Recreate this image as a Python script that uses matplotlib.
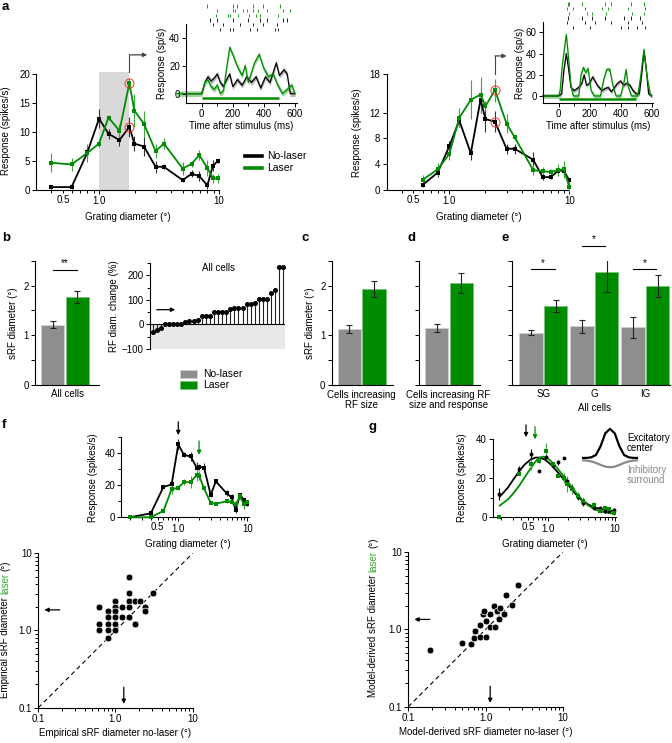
import matplotlib
matplotlib.use('Agg')
import matplotlib.pyplot as plt
from matplotlib.lines import Line2D
from matplotlib.patches import Rectangle

plt.rcParams['font.family'] = ['Liberation Sans', 'DejaVu Sans']
plt.rcParams['font.size'] = 7
plt.rcParams['axes.linewidth'] = 0.8
for ax_ in ('xtick', 'ytick'):
    plt.rcParams[ax_ + '.major.width'] = 0.7
    plt.rcParams[ax_ + '.minor.width'] = 0.7
    plt.rcParams[ax_ + '.major.size'] = 3
    plt.rcParams[ax_ + '.minor.size'] = 2
    plt.rcParams[ax_ + '.major.pad'] = 1.5
    plt.rcParams[ax_ + '.labelsize'] = 7
    plt.rcParams[ax_ + '.direction'] = 'out'

W, H = 672, 743
GREEN = '#008c00'
EGREEN = '#3aa83a'
GRAYBAR = '#8e8e8e'

# ---------------- data ----------------
# a, left cell: size tuning
a1_diam = [0.40, 0.59, 0.80, 1.0, 1.2, 1.48, 1.79, 1.97, 2.37, 2.96, 3.47, 4.98, 5.9, 6.85, 8.0, 8.9, 9.8]
a1_nolaser = [0.5, 0.5, 6.5, 12.3, 9.7, 8.6, 10.9, 8.0, 7.5, 4.0, 4.0, 1.7, 2.8, 2.4, 0.8, 4.2, 5.0]
a1_nolaser_err = [0.3, 0.3, 1.3, 1.6, 0.9, 1.0, 1.7, 1.3, 1.7, 1.0, 0.4, 0.4, 0.6, 0.8, 0.6, 0.9, 0.3]
a1_laser = [4.7, 4.4, 6.4, 8.0, 12.5, 10.2, 18.4, 13.7, 11.4, 6.7, 8.0, 3.7, 4.5, 6.0, 3.8, 2.0, 2.0]
a1_laser_err = [1.6, 1.2, 1.6, 0.5, 0.5, 1.2, 0.9, 2.8, 2.3, 1.2, 1.0, 1.1, 0.5, 0.9, 1.3, 0.8, 0.8]
a1_pick = 1.79

# a, right cell
a2_diam = [0.60, 0.80, 1.0, 1.21, 1.51, 1.82, 2.0, 2.4, 3.0, 3.5, 5.0, 6.0, 7.0, 8.1, 9.0, 10.0]
a2_nolaser = [0.8, 2.7, 6.8, 10.8, 5.7, 14.0, 11.0, 10.6, 6.4, 6.4, 4.7, 2.0, 2.0, 3.0, 3.0, 1.5]
a2_nolaser_err = [0.3, 0.7, 0.8, 1.0, 1.0, 2.0, 2.0, 1.6, 0.8, 0.8, 1.2, 0.4, 0.3, 0.5, 0.8, 0.4]
a2_laser = [1.6, 3.2, 5.6, 11.2, 14.0, 14.8, 13.0, 15.5, 10.3, 8.2, 3.1, 2.9, 2.8, 3.1, 3.2, 0.5]
a2_laser_err = [0.8, 1.0, 1.0, 1.5, 3.0, 2.8, 0.8, 1.8, 1.5, 0.4, 0.8, 0.6, 0.5, 1.0, 1.3, 0.8]
a2_pick = 2.4

# a insets: PSTH (ms, spikes/s)
p1_t_nl = [-100, -10, 0, 20, 40, 60, 80, 100, 120, 140, 160, 180, 200, 230, 260, 290, 320, 350, 380, 410, 440, 480, 500, 530, 550, 570, 600]
p1_r_nl = [0, 0, 0, 8, 12, 9, 11, 14, 8, 5, 10, 14, 5, 10, 6, 12, 8, 12, 4, 12, 8, 22, 13, 17, 14, 0, 0]
p1_t_l = [-160, 0, 20, 40, 60, 80, 100, 120, 140, 160, 180, 200, 220, 240, 260, 280, 300, 320, 340, 370, 400, 430, 460, 490, 520, 550, 580, 600]
p1_r_l = [0, 0, 8, 10, 5, 3, 6, 0, 2, 18, 33, 28, 22, 17, 13, 20, 8, 15, 22, 28, 18, 12, 14, 6, 0, 3, 6, 0]
p2_t_nl = [-100, 0, 20, 35, 50, 65, 80, 100, 130, 150, 165, 180, 200, 220, 250, 280, 300, 320, 340, 360, 380, 400, 420, 440, 460, 480, 500, 520, 535, 550, 565, 580, 600]
p2_r_nl = [0, 0, 2, 25, 40, 25, 8, 5, 8, 12, 20, 10, 12, 18, 10, 5, 7, 8, 4, 8, 12, 14, 10, 12, 10, 5, 2, 2, 20, 42, 25, 2, 0]
p2_t_l = [-100, 0, 10, 25, 50, 65, 80, 95, 130, 145, 160, 175, 190, 210, 230, 270, 290, 310, 330, 350, 370, 400, 420, 435, 450, 470, 510, 530, 550, 570, 590, 600]
p2_r_l = [0, 0, 5, 30, 58, 35, 10, 0, 0, 20, 27, 22, 26, 5, 0, 0, 15, 25, 25, 10, 0, 0, 12, 25, 8, 0, 0, 20, 44, 18, 2, 0]
laser_on = [0, 500]

# rasters (spike times in ms, one list per trial)
r1_laser = [[36, 203, 229, 328, 396, 503], [96, 199, 214, 268, 293, 332, 364, 418, 525, 567],
            [92, 171, 182, 236, 306, 349, 375, 493]]
r1_nolaser = [[54, 96, 203, 300, 375, 418, 525, 546], [75, 139, 246, 332, 396, 482],
              [118, 182, 203, 310, 353, 471, 493]]
r2_laser = [[58, 69, 152, 298, 340, 465, 548], [52, 90, 173, 277, 319, 444, 558],
            [65, 183, 215, 308, 475, 548]]
r2_nolaser = [[58, 152, 215, 298, 423, 465, 527], [52, 173, 235, 340, 444, 538],
              [90, 204, 402, 444, 506, 558]]

# b: all cells
b_vals = [1.21, 1.77]
b_errs = [0.07, 0.13]
rf_change = [-31, -23, -14, 0, 0, 0, 0, 0, 10, 12, 14, 16, 34, 34, 34, 52, 52, 52, 52, 64, 68, 68, 68,
             82, 82, 89, 103, 103, 103, 126, 142, 235, 235]
# c, d
c_vals = [1.12, 1.93]
c_errs = [0.08, 0.16]
d_vals = [1.15, 2.05]
d_errs = [0.08, 0.2]
# e: layers
e_layers = ['SG', 'G', 'IG']
e_nolaser = [1.05, 1.18, 1.16]
e_nolaser_err = [0.05, 0.13, 0.21]
e_laser = [1.58, 2.28, 1.99]
e_laser_err = [0.12, 0.40, 0.23]

# f top example
f_diam = [0.2, 0.4, 0.61, 0.8, 1.0, 1.21, 1.51, 1.85, 2.0, 2.36, 2.95, 3.5, 5.0, 5.9, 6.8, 7.8, 8.96, 10.0]
f_nolaser = [0, 2.5, 19, 20.5, 45.5, 39, 38, 31, 31.5, 31, 14, 22.5, 15, 12.5, 4.5, 14, 11, 8]
f_nolaser_err = [0, 0.2, 0.8, 1, 3.5, 1.5, 3, 3.5, 2, 3, 1.5, 1, 2, 2, 2, 1, 1, 1]
f_laser = [0, 0, 4, 17.5, 18.5, 22, 22, 26.5, 26, 18, 9, 8.5, 10, 9.5, 8, 13, 8, 9.5]
f_laser_err = [0, 0, 0.5, 3, 1.5, 2, 4, 4, 3, 1, 1, 1, 1, 1, 1, 1.5, 3, 1.5]
f_peak = [1.0, 2.0]

# f bottom: empirical sRF diameters
f_sc_nolaser = [0.61, 0.61, 0.61, 0.80, 0.80, 0.80, 0.80, 0.80, 1.0, 1.0, 1.0, 1.0, 1.0, 1.0, 1.23, 1.23,
                1.51, 1.51, 1.51, 1.51, 1.51, 1.81, 1.81, 2.06, 2.43, 2.43, 3.02]
f_sc_laser = [2.0, 1.22, 1.0, 1.81, 1.49, 1.22, 1.0, 0.80, 2.39, 2.0, 1.81, 1.49, 1.22, 1.0, 2.0, 1.49,
              4.96, 3.02, 2.39, 2.0, 1.49, 2.39, 1.2, 2.39, 2.04, 1.81, 3.02]
f_mean = [1.28, 1.85]

# g top example with fits
g_diam = [0.186, 0.37, 0.56, 0.74, 0.95, 1.17, 1.43, 1.73, 1.94, 2.31, 2.77, 3.37, 4.92, 5.97, 7.1, 8.2, 9.8]
g_nolaser = [12, 24.6, 32.4, 23.9, 30.7, 26.8, 28, 30.2, 18.3, 15.2, 10.6, 7.5, 5, 4.6, 3.2, 3, 3.8]
g_nolaser_err = [3, 1.5, 2.5, 0, 0, 1.5, 1.5, 0, 2.5, 2, 2, 1.5, 1, 0.5, 1, 0.5, 1]
g_laser = [0, 22, 27, 29, 34, 27, 21, 20, 17, 14.5, 11, 8.5, 6.5, 3, 4.5, 4, 2]
g_laser_err = [0, 0, 3, 1.5, 4, 1.5, 0, 2.5, 4, 2.5, 2, 2, 1.5, 0, 1.5, 1, 1]
gfit_x_nl = [0.19, 0.25, 0.3, 0.37, 0.45, 0.55, 0.65, 0.75, 0.9, 1.1, 1.4, 1.7, 2.0, 2.5, 3.0, 4.0, 5.0, 6.5, 8.0, 10]
gfit_y_nl = [10.5, 15, 19, 23.5, 27, 29.5, 30.5, 30.5, 29.5, 27, 23, 19.5, 16.5, 12.5, 9.5, 6.5, 5, 4, 3.5, 3.2]
gfit_x_l = [0.19, 0.25, 0.3, 0.37, 0.45, 0.55, 0.65, 0.75, 0.85, 1.0, 1.2, 1.5, 1.8, 2.2, 2.7, 3.3, 4.0, 5.0, 6.5, 8.0, 10]
gfit_y_l = [6, 9, 12, 16, 20.5, 25, 28.5, 30.5, 31, 30, 27.5, 23.5, 20, 16, 12, 8.5, 6, 4, 2.8, 2.2, 1.8]
g_peak = [0.47, 0.64]

# g bottom: model-derived sRF diameters
g_sc_nolaser = [0.19, 0.50, 0.64, 0.72, 0.74, 0.85, 0.84, 0.92, 1.0, 1.0, 1.13, 1.13, 1.31, 1.28, 1.41,
                1.48, 1.56, 1.72, 1.85, 2.2, 2.63, 0.95]
g_sc_laser = [0.55, 0.66, 0.65, 0.77, 0.95, 0.80, 1.13, 1.61, 0.80, 1.28, 1.08, 1.61, 1.08, 1.99, 1.72,
              1.35, 1.90, 1.61, 2.82, 2.1, 3.8, 1.72]
g_mean = [1.15, 1.35]

# schematic of center / surround profiles
dog_x = [-3, -2.5, -2, -1.5, -1, -0.5, 0, 0.5, 1, 1.5, 2, 2.5, 3]
dog_center = [0, 0, 0.02, 0.1, 0.4, 0.85, 1.0, 0.85, 0.4, 0.1, 0.02, 0, 0]
dog_surround = [-0.08, -0.09, -0.12, -0.17, -0.24, -0.3, -0.32, -0.3, -0.24, -0.17, -0.12, -0.09, -0.08]

# ---------------- helpers ----------------
fig = plt.figure(figsize=(W / 100, H / 100), dpi=100)


def px_axes(x0, y0, x1, y1):
    return fig.add_axes([x0 / W, 1 - y1 / H, (x1 - x0) / W, (y1 - y0) / H])


def ftext(x, y, s, **kw):
    return fig.text(x / W, 1 - y / H, s, **kw)


def style(ax):
    ax.spines['top'].set_visible(False)
    ax.spines['right'].set_visible(False)
    ax.patch.set_alpha(0)


def log_x(ax, lo, hi):
    ax.set_xscale('log')
    ax.set_xlim(lo, hi)
    ax.set_xticks([1, 10])
    ax.set_xticklabels(['1.0', '10'])
    minor = [m / 10 for m in range(1, 10) if m / 10 > lo] + list(range(2, 10))
    ax.set_xticks(minor, minor=True)
    ax.set_xticklabels(['0.5' if m == 0.5 else '' for m in minor], minor=True)
    ax.tick_params(axis='x', which='minor', pad=1.5, labelsize=7)


def tuning(ax, x, y, err, color, ecolor, marker='s'):
    ax.errorbar(x, y, yerr=err, color=color, ecolor=ecolor, lw=1.3, elinewidth=0.8,
                capsize=1.5, capthick=0.8, marker=marker, ms=2.8, mew=0, clip_on=False, zorder=3)


def psth(ax, t, r, color, band):
    lo = [v - 2 for v in r]
    hi = [v + 2 for v in r]
    ax.fill_between(t, lo, hi, color=band, lw=0, clip_on=False)
    ax.plot(t, r, color=color, lw=0.9, clip_on=False)


def raster(ax, rows_l, rows_nl):
    for i, row in enumerate(rows_l):
        ax.vlines(row, i - 0.35, i + 0.35, color=GREEN, lw=0.6)
    for i, row in enumerate(rows_nl):
        k = i + len(rows_l)
        ax.vlines(row, k - 0.35, k + 0.35, color='k', lw=0.6)
    ax.set_xlim(-100, 610)
    ax.set_ylim(len(rows_l) + len(rows_nl) - 0.5, -0.5)
    ax.axis('off')


def bars(ax, xpos, vals, errs, cols, edges):
    ax.bar(xpos, vals, width=0.94, color=cols, edgecolor=edges, lw=0.7)
    ax.errorbar(xpos, vals, yerr=errs, fmt='none', ecolor='#222222', elinewidth=0.8,
                capsize=2, capthick=0.8)
    ax.set_ylim(0, 2.5)
    ax.set_yticks([0, 0.5, 1, 1.5, 2, 2.5])
    ax.set_yticklabels(['0', '', '1', '', '2', ''])
    ax.set_xticks([])
    style(ax)


def sig(ax, x0, x1, y, s):
    ax.plot([x0, x1], [y, y], color='k', lw=0.8, clip_on=False)
    ax.text((x0 + x1) / 2, y + 0.03, s, ha='center', va='bottom', fontsize=7, clip_on=False)


def arrow(ax, xy, xytext, color):
    ax.annotate('', xy=xy, xytext=xytext, annotation_clip=False,
                arrowprops=dict(arrowstyle='-|>', color=color, lw=0.9, mutation_scale=6,
                                shrinkA=0, shrinkB=0))


def vlabel(x, y_bottom, pieces):
    r = fig.canvas.get_renderer()
    y = y_bottom
    for s, c in pieces:
        t = ftext(x, y, s, rotation=90, ha='center', va='bottom', color=c)
        y -= t.get_window_extent(renderer=r).height + 2.6


# ---------------- a ----------------
for k, (diam, nl, nle, la, lae, pick, x0, ytop, yt) in enumerate([
        (a1_diam, a1_nolaser, a1_nolaser_err, a1_laser, a1_laser_err, a1_pick, 36.3, 20, [0, 5, 10, 15, 20]),
        (a2_diam, a2_nolaser, a2_nolaser_err, a2_laser, a2_laser_err, a2_pick, 386.6, 18, [0, 4, 8, 12, 18])]):
    ax = px_axes(x0, 74, x0 + 182.7, 190)
    style(ax)
    log_x(ax, 0.3, 10)
    ax.set_ylim(0, ytop)
    ax.set_yticks(yt)
    if k == 0:
        ax.fill_between([1.0, pick], 0, 20.4, color='#d9d9d9', lw=0, zorder=0, clip_on=False)
    tuning(ax, diam, nl, nle, 'k', '#333333')
    tuning(ax, diam, la, lae, GREEN, EGREEN)
    i = diam.index(pick)
    ax.plot([pick, pick], [nl[i], la[i]], 'o', mfc='none', mec='#ff3030', ms=6.5, mew=0.7,
            zorder=4, clip_on=False)
    if k == 0:
        ytop_line, xend = 23.3, 2.52
        ybot_line = 20.4
    else:
        ytop_line, xend = 20.8, 3.0
        ybot_line = 18.0
    ax.plot([pick, pick], [ybot_line, ytop_line], color='#444444', lw=0.8, clip_on=False)
    arrow(ax, (xend, ytop_line), (pick, ytop_line), '#444444')

ftext(6, 131, 'Response (spikes/s)', rotation=90, ha='center', va='center')
ftext(356.7, 133, 'Response (spikes/s)', rotation=90, ha='center', va='center')
ftext(127.7, 217.3, 'Grating diameter (°)', ha='center', va='center')
ftext(478.5, 217.3, 'Grating diameter (°)', ha='center', va='center')

# insets
for (x0, y0, y1, ytop, yt, tnl, rnl, tl, rl, rl_rows, rnl_rows, ylx) in [
        (186.2, 23.6, 102.8, 50, [0, 20, 40], p1_t_nl, p1_r_nl, p1_t_l, p1_r_l, r1_laser, r1_nolaser, 161.7),
        (543.0, 21.7, 102.9, 70, [0, 20, 40, 60], p2_t_nl, p2_r_nl, p2_t_l, p2_r_l, r2_laser, r2_nolaser, 520.0)]:
    span = (y1 - y0)
    ax = px_axes(x0, y0, x0 + 110.3, y1)
    style(ax)
    ax.set_xlim(-100, 610)
    ax.set_ylim(-6.5, ytop)
    ax.set_yticks(yt)
    ax.set_xticks([0, 200, 400, 600])
    ax.set_xticks([100, 300, 500], minor=True)
    psth(ax, tnl, rnl, 'k', '#b5b5b5')
    psth(ax, tl, rl, GREEN, '#9bd69b')
    ax.plot(laser_on, [-3, -3], color=GREEN, lw=1.8, solid_capstyle='butt')
    ax.set_xlabel('Time after stimulus (ms)', labelpad=1.5)
    ftext(ylx, 63, 'Response (sp/s)', rotation=90, ha='center', va='center')
    rax = px_axes(x0, y0 - 20, x0 + 110.3, y0 + 8)
    raster(rax, rl_rows, rnl_rows)

# legend a
for y, c, s in [(155.7, 'k', 'No-laser'), (168.3, GREEN, 'Laser')]:
    fig.add_artist(Line2D([245 / W, 262 / W], [1 - y / H, 1 - y / H], color=c, lw=2.6))
    ftext(267, y, s, va='center', fontsize=7.5)

# ---------------- b ----------------
ax = px_axes(35, 260.7, 99, 385)
bars(ax, [0, 1], b_vals, b_errs, [GRAYBAR, GREEN], ['#cfcfcf', '#7cc47c'])
ax.set_xlim(-0.71, 1.88)
sig(ax, 0.02, 0.98, 2.32, '**')
ax.set_ylabel('sRF diameter (°)', labelpad=4)
ftext(67.7, 394.3, 'All cells', ha='center', va='center')

ax = px_axes(150, 263, 285, 349)
style(ax)
ax.spines['bottom'].set_visible(False)
ax.set_xticks([])
idx = list(range(len(rf_change)))
ax.set_xlim(-0.66, 32.4)
ax.set_ylim(-100, 250)
ax.set_yticks([-100, 0, 100, 200])
ax.set_yticklabels(['\u2212100', '0', '100', '200'])
ax.set_yticks([-50, 50, 150, 250], minor=True)
ax.fill_between([-0.66, 32.4], -100, 0, color='#e8e8e8', lw=0, zorder=0)
ax.axhline(0, color='k', lw=0.8, zorder=1)
ax.vlines(idx, 0, rf_change, color='#222222', lw=0.8, zorder=2)
ax.plot(idx, rf_change, 'o', color='k', ms=2.6, zorder=3, clip_on=False)
ax.text(16, 250, 'All cells', ha='center', va='top')
arrow(ax, (5.5, 60), (1.0, 60), 'k')
ax.set_ylabel('RF diam. change (%)', labelpad=2)

for y, c, e, s in [(374, GRAYBAR, '#cfcfcf', 'No-laser'), (385, GREEN, '#7cc47c', 'Laser')]:
    fig.add_artist(Rectangle((180 / W, 1 - (y + 3.6) / H), 16.5 / W, 7.2 / H, facecolor=c,
                             edgecolor=e, lw=0.6))
    ftext(203, y, s, va='center', fontsize=7.5)

# ---------------- c, d ----------------
ax = px_axes(331.7, 260.7, 393, 385)
bars(ax, [0, 1], c_vals, c_errs, [GRAYBAR, GREEN], ['#cfcfcf', '#7cc47c'])
ax.set_xlim(-0.71, 1.77)
ax.set_ylabel('sRF diameter (°)', labelpad=4)
ftext(361.7, 400, 'Cells increasing\nRF size', ha='center', va='center', linespacing=1.05)

ax = px_axes(419, 260.7, 480, 385)
bars(ax, [0, 1], d_vals, d_errs, [GRAYBAR, GREEN], ['#cfcfcf', '#7cc47c'])
ax.set_xlim(-0.72, 1.76)
ax.set_yticklabels([])
ftext(448.3, 400, 'Cells increasing RF\nsize and response', ha='center', va='center', linespacing=1.05)

# ---------------- e ----------------
ax = px_axes(512.3, 260.7, 670, 385)
gx = [0, 2.06, 4.12]
xs, vals, errs, cols, edges = [], [], [], [], []
for g in range(3):
    xs += [gx[g], gx[g] + 1]
    vals += [e_nolaser[g], e_laser[g]]
    errs += [e_nolaser_err[g], e_laser_err[g]]
    cols += [GRAYBAR, GREEN]
    edges += ['#cfcfcf', '#7cc47c']
bars(ax, xs, vals, errs, cols, edges)
ax.set_xlim(-0.76, 5.62)
ax.set_yticklabels([])
sig(ax, gx[0], gx[0] + 0.95, 2.33, '*')
sig(ax, gx[1], gx[1] + 0.95, 2.8, '*')
sig(ax, gx[2], gx[2] + 0.95, 2.33, '*')
for g, name in enumerate(e_layers):
    ax.text(gx[g] + 0.5, -0.08, name, ha='center', va='top', transform=ax.transData)
ftext(594, 408, 'All cells', ha='center', va='center')

# ---------------- f, g top ----------------
for (x0, x1, ytop, diam, nl, nle, la, lae, peaks, ylx, xlc, mk) in [
        (121.4, 248.8, 50, f_diam, f_nolaser, f_nolaser_err, f_laser, f_laser_err, f_peak, 93.3, 188.3, 's'),
        (492.8, 616.4, 40, g_diam, g_nolaser, g_nolaser_err, g_laser, g_laser_err, g_peak, 461.7, 545, 'o')]:
    yb = 517.3
    ax = px_axes(x0, yb - (1.6 if ytop == 50 else 1.9575) * ytop, x1, yb)
    style(ax)
    log_x(ax, 0.15, 10.5)
    ax.set_ylim(0, ytop)
    ax.set_yticks([0, 20, 40])
    ax.set_yticks([10, 30] + ([50] if ytop == 50 else []), minor=True)
    if mk == 's':
        tuning(ax, diam, nl, nle, 'k', '#333333')
        tuning(ax, diam, la, lae, GREEN, EGREEN)
        arrow(ax, (peaks[0], 51.4), (peaks[0], 59.7), 'k')
        arrow(ax, (peaks[1], 39), (peaks[1], 47.7), GREEN)
    else:
        ax.plot(gfit_x_nl, gfit_y_nl, color='k', lw=1.3)
        ax.plot(gfit_x_l, gfit_y_l, color=GREEN, lw=1.3)
        ax.errorbar(diam, nl, yerr=nle, fmt='o', color='k', ms=2.8, mew=0, elinewidth=0.8,
                    capsize=1.5, capthick=0.8, clip_on=False, zorder=3)
        ax.errorbar(diam, la, yerr=lae, fmt='s', color=GREEN, ecolor=EGREEN, ms=2.6, mew=0,
                    elinewidth=0.8, capsize=1.5, capthick=0.8, clip_on=False, zorder=3)
        arrow(ax, (peaks[0], 40.9), (peaks[0], 47.2), 'k')
        arrow(ax, (peaks[1], 39.8), (peaks[1], 46.3), GREEN)
    ftext(ylx, 478, 'Response (spikes/s)', rotation=90, ha='center', va='center')
    ftext(xlc, 544, 'Grating diameter (°)', ha='center', va='center')

# center-surround schematic
dax = px_axes(581.7, 426, 638.3, 471)
dax.plot(dog_x, dog_center, color='k', lw=1.6)
dax.plot(dog_x, dog_surround, color='#8a8a8a', lw=1.6)
dax.set_xlim(-3, 3)
dax.set_ylim(-0.45, 1.1)
dax.axis('off')
ftext(627, 443.5, 'Excitatory\ncenter', va='center', linespacing=1.0)
ftext(627, 475, 'Inhibitory\nsurround', va='center', color='#8a8a8a', linespacing=1.0)

# ---------------- f, g scatter ----------------
for (x0, y0, sx, sy, mean, xl, lab, ylx, ybot) in [
        (38.3, 553.3, f_sc_nolaser, f_sc_laser, f_mean, 116.7, 'Empirical', 5.5, 698),
        (408.3, 552.3, g_sc_nolaser, g_sc_laser, g_mean, 486, 'Model-derived', 373.3, 697)]:
    ax = px_axes(x0, y0, x0 + 154.4, y0 + 154.4)
    style(ax)
    ax.set_xscale('log')
    ax.set_yscale('log')
    ax.set_xlim(0.1, 10)
    ax.set_ylim(0.1, 10)
    for setter in (ax.set_xticks, ax.set_yticks):
        setter([0.1, 1, 10])
        setter([m / 10 for m in range(2, 10)] + list(range(2, 10)), minor=True)
    ax.set_xticklabels(['0.1', '1.0', '10'])
    ax.set_yticklabels(['0.1', '1.0', '10'])
    ax.tick_params(which='minor', labelleft=False, labelbottom=False)
    ax.plot([0.1, 10], [0.1, 10], color='k', lw=0.8, dashes=(4, 3))
    ax.scatter(sx, sy, s=24, color='k', edgecolor='white', lw=0.5, zorder=3)
    arrow(ax, (0.12, mean[1]), (0.19, mean[1]), 'k')
    arrow(ax, (mean[0], 0.112), (mean[0], 0.184), 'k')
    ax.set_xlabel(lab + ' sRF diameter no-laser (°)', labelpad=3)
    vlabel(ylx, ybot, [(lab + ' sRF diameter', 'k'), ('laser', '#33aa33'), ('(°)', 'k')])

# panel letters
for s, x, y in [('a', 2, 1), ('b', 2, 232), ('c', 302, 232), ('d', 407, 232), ('e', 502, 232),
                ('f', 2, 419), ('g', 368, 421)]:
    ftext(x, y, s, fontsize=9.5, fontweight='bold', va='top')

fig.savefig('out.png', dpi=100)
